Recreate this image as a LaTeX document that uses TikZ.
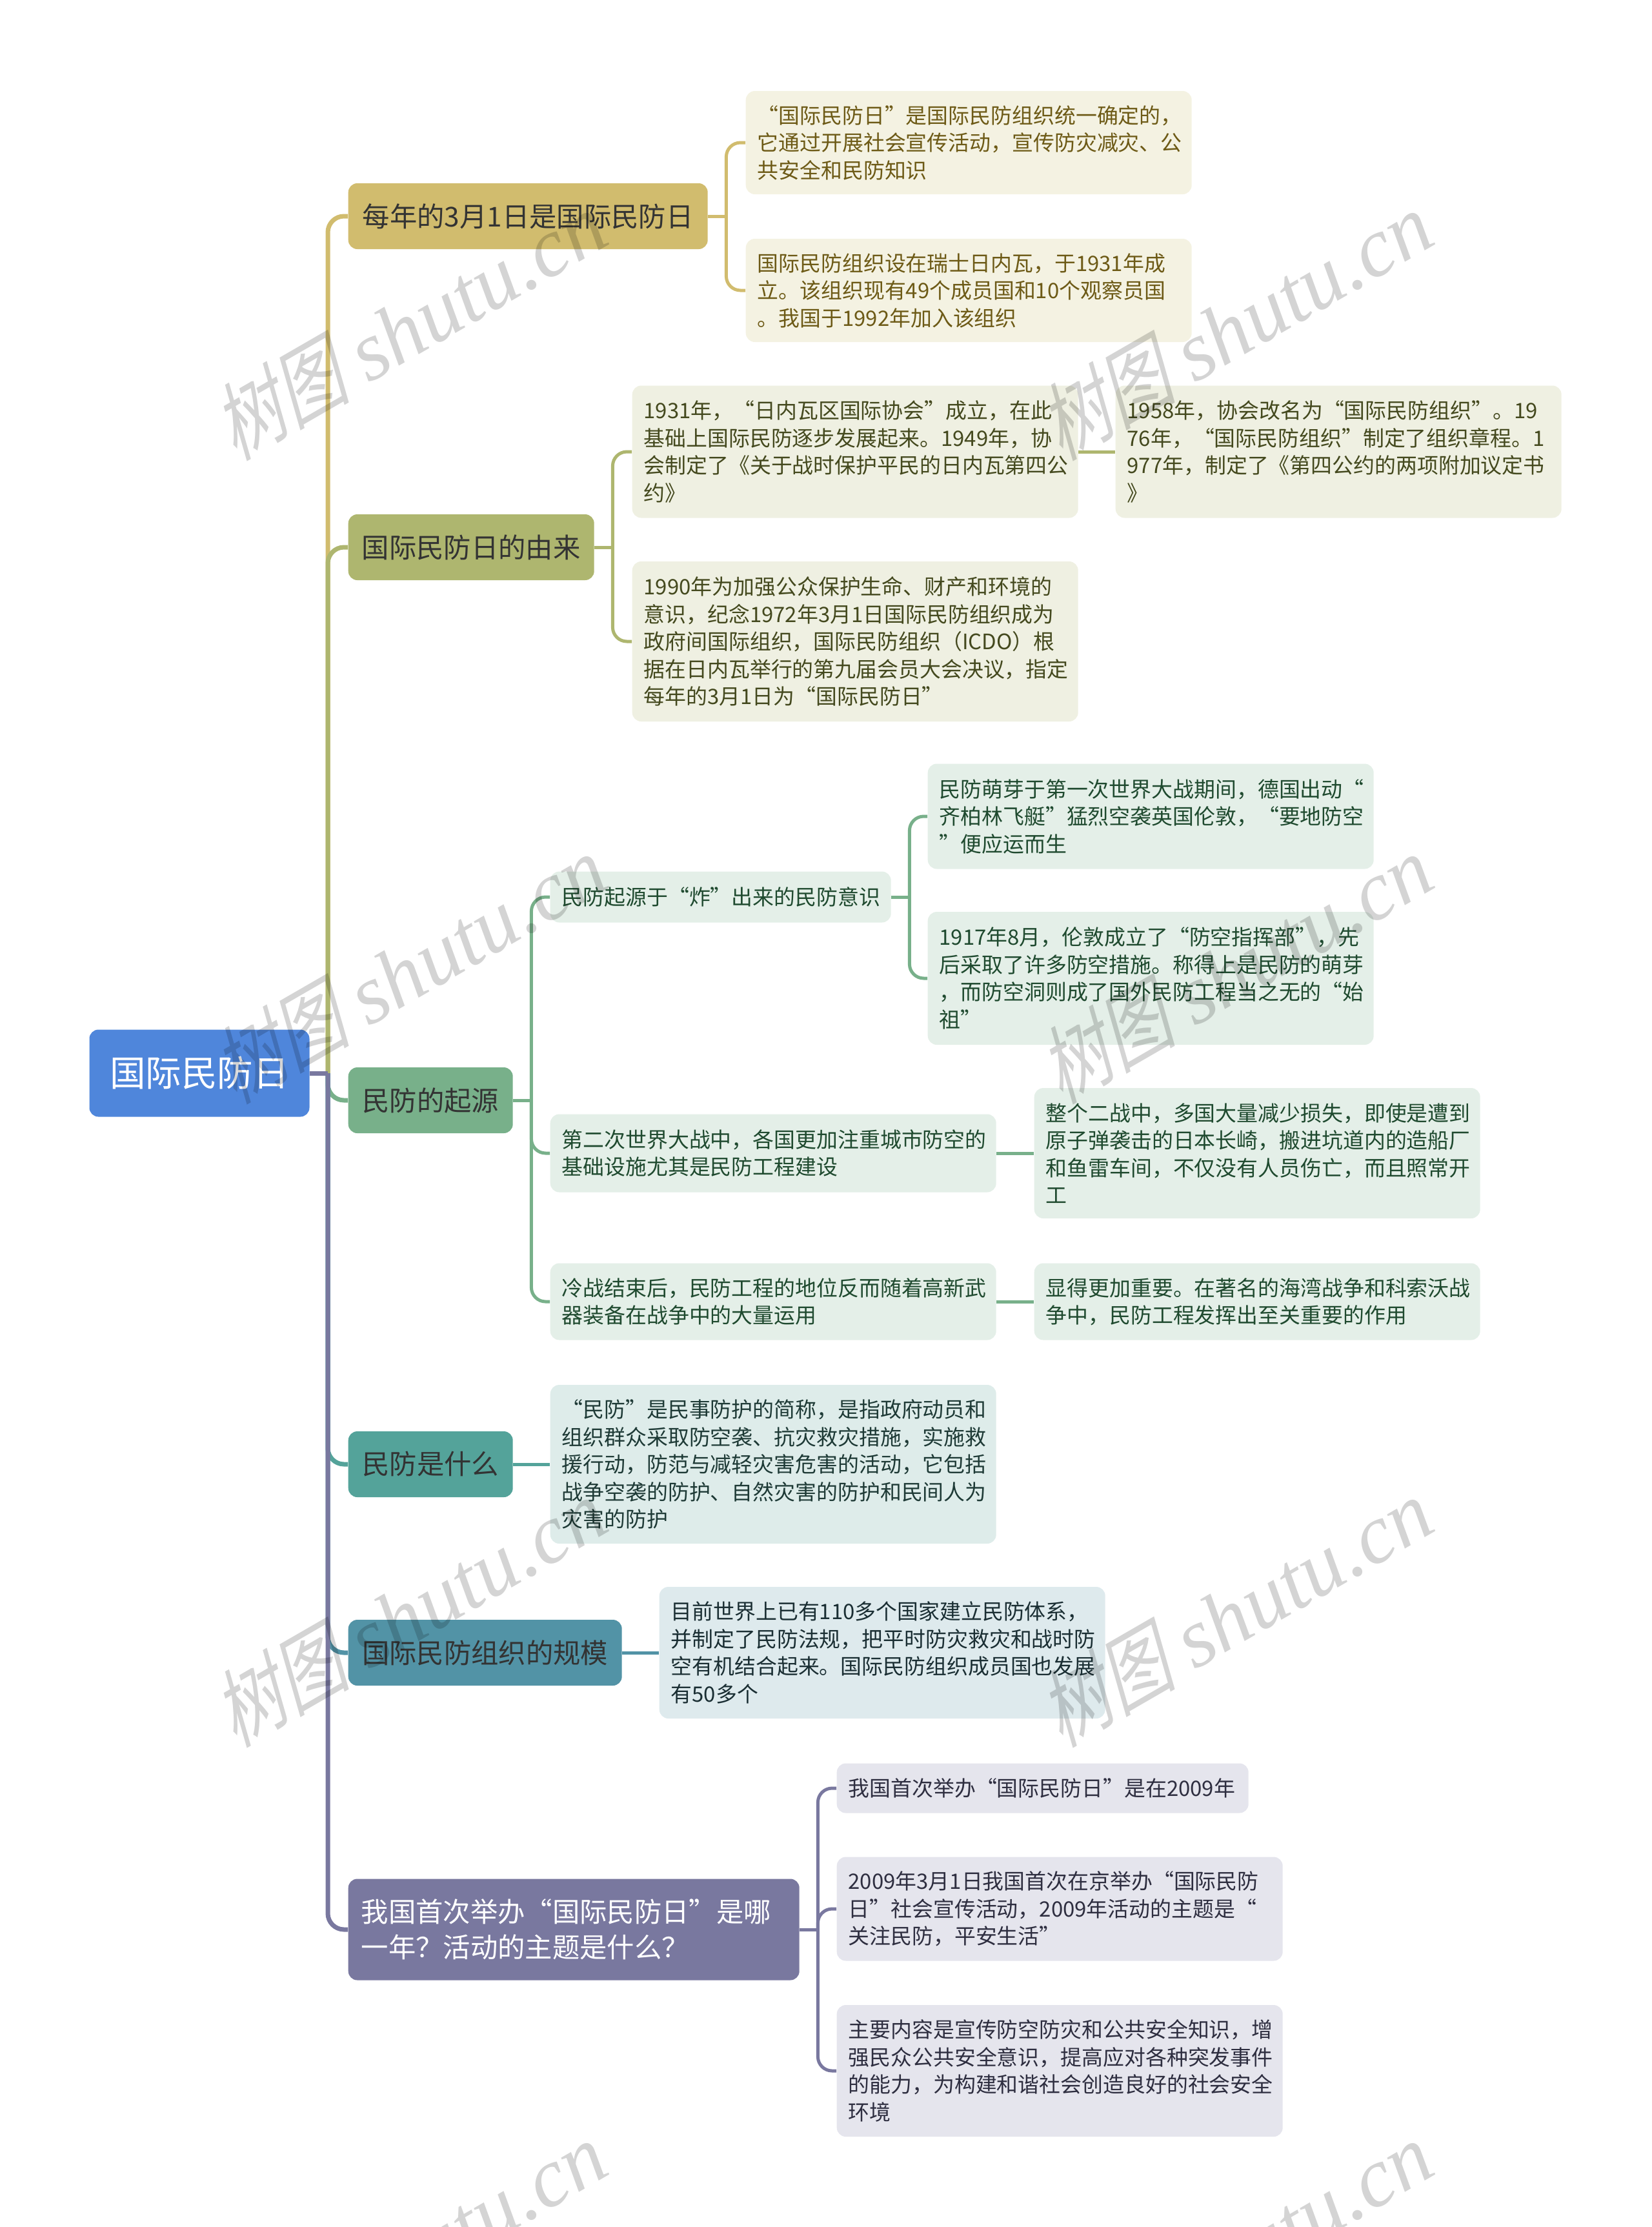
\documentclass[tikz,border=0pt]{standalone}
\usepackage{fontspec}
\setmainfont{Noto Sans CJK SC}
\newfontfamily\markcjk[FakeSlant=0.25,FakeStretch=0.8]{Noto Sans CJK SC}
\newfontfamily\marklatin{Liberation Serif}
\usetikzlibrary{calc}
% branch colours
\definecolor{gold}{HTML}{D1BC6E}
\definecolor{olive}{HTML}{AEB66F}
\definecolor{leaf}{HTML}{78B08A}
\definecolor{teal}{HTML}{54A39A}
\definecolor{lake}{HTML}{5293A6}
\definecolor{dusk}{HTML}{79789F}
\definecolor{sky}{HTML}{4F86DB}
% pale boxes and their text
\definecolor{goldpale}{HTML}{F4F2E2}
\definecolor{olivepale}{HTML}{EFF0E2}
\definecolor{leafpale}{HTML}{E4EFE8}
\definecolor{tealpale}{HTML}{DEECEA}
\definecolor{lakepale}{HTML}{DEEAED}
\definecolor{duskpale}{HTML}{E5E5ED}
\definecolor{goldtext}{HTML}{6D5A16}
\definecolor{olivetext}{HTML}{44491E}
\definecolor{leaftext}{HTML}{1F4A2F}
\definecolor{tealtext}{HTML}{1E3A36}
\definecolor{laketext}{HTML}{1A2E33}
\definecolor{dusktext}{HTML}{2E2E40}
\tikzset{
    mainbox/.style={fill=sky, text=white, rounded corners=.14cm, inner sep=0pt, font=\fontsize{15.8}{19}\selectfont},
    topicbox/.style={fill=#1, text=black!80, rounded corners=.14cm, anchor=west, inner xsep=.2cm, inner ysep=0pt, minimum height=1.02cm, font=\fontsize{12.05}{15.6}\selectfont},
    leafbox/.style 2 args={fill=#1, text=#2, rounded corners=.14cm, anchor=west, inner xsep=.18cm, inner ysep=0pt, text width=6.55cm, align=left, font=\fontsize{9.36}{12.09}\selectfont},
    trunkline/.style={draw=#1, line width=.07cm, rounded corners=.25cm},
    wire/.style={draw=#1, line width=.05cm, rounded corners=.22cm},
}
\begin{document}
\begin{tikzpicture}
    \useasboundingbox (0,0) rectangle (25.6,-34.51);
    % Centre and first level
    \node[mainbox, minimum width=3.41cm, minimum height=1.35cm] (root) at (3.09,-16.63) {国际民防日};
    \coordinate (trunk) at (5.08,-16.63);
    \node[topicbox=gold, minimum width=5.57cm] (day) at (5.39,-3.35) {每年的3月1日是国际民防日};
    \node[topicbox=olive, minimum width=3.81cm] (origin) at (5.39,-8.48) {国际民防日的由来};
    \node[topicbox=leaf, minimum width=2.55cm] (source) at (5.39,-17.05) {民防的起源};
    \node[topicbox=teal, minimum width=2.55cm] (what) at (5.39,-22.69) {民防是什么};
    \node[topicbox=lake, minimum width=4.24cm] (scale) at (5.39,-25.61) {国际民防组织的规模};
    \node[topicbox=dusk, text=white, text width=6.59cm, align=left, minimum height=1.57cm] (first) at (5.39,-29.9) {我国首次举办“国际民防日”是哪\\一年？活动的主题是什么？};
    % Leaves of the first two branches
    \node[leafbox={goldpale}{goldtext}, minimum height=1.6cm] (dayA) at (11.55,-2.21) {“国际民防日”是国际民防组织统一确定的，\\它通过开展社会宣传活动，宣传防灾减灾、公\\共安全和民防知识};
    \node[leafbox={goldpale}{goldtext}, minimum height=1.6cm] (dayB) at (11.55,-4.5) {国际民防组织设在瑞士日内瓦，于1931年成\\立。该组织现有49个成员国和10个观察员国\\。我国于1992年加入该组织};
    \node[leafbox={olivepale}{olivetext}, minimum height=2.05cm] (originA) at (9.79,-7.0) {1931年，“日内瓦区国际协会”成立，在此\\基础上国际民防逐步发展起来。1949年，协\\会制定了《关于战时保护平民的日内瓦第四公\\约》};
    \node[leafbox={olivepale}{olivetext}, minimum height=2.05cm] (originC) at (17.28,-7.0) {1958年，协会改名为“国际民防组织”。19\\76年，“国际民防组织”制定了组织章程。1\\977年，制定了《第四公约的两项附加议定书\\》};
    \node[leafbox={olivepale}{olivetext}, minimum height=2.48cm] (originB) at (9.79,-9.94) {1990年为加强公众保护生命、财产和环境的\\意识，纪念1972年3月1日国际民防组织成为\\政府间国际组织，国际民防组织（ICDO）根\\据在日内瓦举行的第九届会员大会决议，指定\\每年的3月1日为“国际民防日”};
    % Leaves of the green branch
    \node[leafbox={leafpale}{leaftext}, text width=4.92cm, minimum height=.79cm] (sourceA) at (8.52,-13.9) {民防起源于“炸”出来的民防意识};
    \node[leafbox={leafpale}{leaftext}, minimum height=1.63cm] (sourceAa) at (14.37,-12.65) {民防萌芽于第一次世界大战期间，德国出动“\\齐柏林飞艇”猛烈空袭英国伦敦，“要地防空\\”便应运而生};
    \node[leafbox={leafpale}{leaftext}, minimum height=2.06cm] (sourceAb) at (14.37,-15.16) {1917年8月，伦敦成立了“防空指挥部”，先\\后采取了许多防空措施。称得上是民防的萌芽\\，而防空洞则成了国外民防工程当之无的“始\\祖”};
    \node[leafbox={leafpale}{leaftext}, minimum height=1.21cm] (sourceB) at (8.52,-17.87) {第二次世界大战中，各国更加注重城市防空的\\基础设施尤其是民防工程建设};
    \node[leafbox={leafpale}{leaftext}, minimum height=2.02cm] (sourceBa) at (16.02,-17.87) {整个二战中，多国大量减少损失，即使是遭到\\原子弹袭击的日本长崎，搬进坑道内的造船厂\\和鱼雷车间，不仅没有人员伤亡，而且照常开\\工};
    \node[leafbox={leafpale}{leaftext}, minimum height=1.19cm] (sourceC) at (8.52,-20.17) {冷战结束后，民防工程的地位反而随着高新武\\器装备在战争中的大量运用};
    \node[leafbox={leafpale}{leaftext}, minimum height=1.19cm] (sourceCa) at (16.02,-20.17) {显得更加重要。在著名的海湾战争和科索沃战\\争中，民防工程发挥出至关重要的作用};
    % Leaves of the lower branches
    \node[leafbox={tealpale}{tealtext}, minimum height=2.46cm] (whatA) at (8.52,-22.69) {“民防”是民事防护的简称，是指政府动员和\\组织群众采取防空袭、抗灾救灾措施，实施救\\援行动，防范与减轻灾害危害的活动，它包括\\战争空袭的防护、自然灾害的防护和民间人为\\灾害的防护};
    \node[leafbox={lakepale}{laketext}, minimum height=2.04cm] (scaleA) at (10.21,-25.61) {目前世界上已有110多个国家建立民防体系，\\并制定了民防法规，把平时防灾救灾和战时防\\空有机结合起来。国际民防组织成员国也发展\\有50多个};
    \node[leafbox={duskpale}{dusktext}, text width=6.02cm, minimum height=.77cm] (firstA) at (12.96,-27.71) {我国首次举办“国际民防日”是在2009年};
    \node[leafbox={duskpale}{dusktext}, minimum height=1.61cm] (firstB) at (12.96,-29.58) {2009年3月1日我国首次在京举办“国际民防\\日”社会宣传活动，2009年活动的主题是“\\关注民防，平安生活”};
    \node[leafbox={duskpale}{dusktext}, minimum height=2.04cm] (firstC) at (12.96,-32.09) {主要内容是宣传防空防灾和公共安全知识，增\\强民众公共安全意识，提高应对各种突发事件\\的能力，为构建和谐社会创造良好的社会安全\\环境};
    % Trunk, the last colour lies on top
    \foreach \topic/\col in {day/gold,origin/olive,source/leaf,what/teal,scale/lake,first/dusk}
        \draw[trunkline=\col] (trunk) |- (\topic.west);
    \draw[trunkline=dusk] (root.east) -- (trunk);
    % Forked connectors
    \foreach \from/\to/\col in {day/dayA/gold,day/dayB/gold,origin/originA/olive,origin/originB/olive,source/sourceA/leaf,source/sourceB/leaf,source/sourceC/leaf,sourceA/sourceAa/leaf,sourceA/sourceAb/leaf,first/firstA/dusk,first/firstB/dusk,first/firstC/dusk} {
        \draw[wire=\col] (\from.east) -- ++(.28,0) coordinate (fork);
        \draw[wire=\col] (fork) |- (\to.west);
    }
    % Straight connectors
    \foreach \from/\to/\col in {originA/originC/olive,sourceB/sourceBa/leaf,sourceC/sourceCa/leaf,what/whatA/teal,scale/scaleA/lake}
        \draw[wire=\col] (\from.east) -- (\to.west);
    % Watermark
    \foreach \i/\x in {1/6.33,2/19.13}
        \foreach \j/\y in {1/-5.02,2/-14.99,3/-24.96,4/-34.93}
            \node[text=black, opacity=.17, rotate=30, font=\fontsize{37}{40}\selectfont] (mark\i\j) at (\x,\y) {{\markcjk 树图} {\marklatin\itshape shutu.cn}};
\end{tikzpicture}
\end{document}
